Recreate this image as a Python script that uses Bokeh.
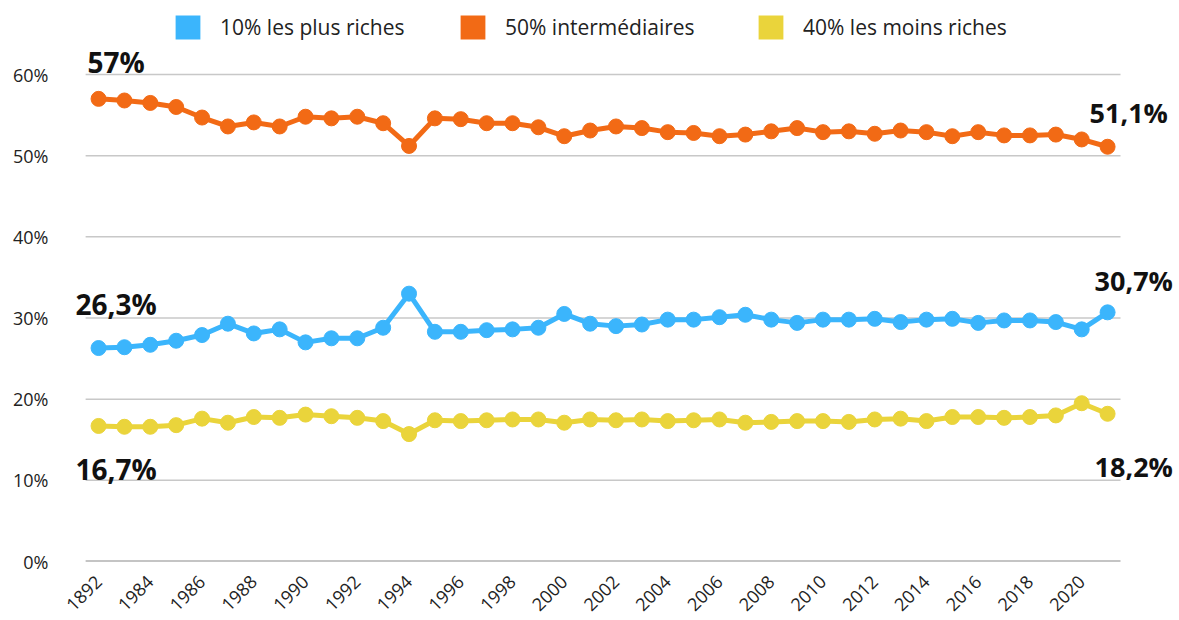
from math import pi
from bokeh.plotting import figure
from bokeh.models import Range1d, FixedTicker, Legend, LegendItem, Label, ColumnDataSource
from bokeh.embed import file_html
from bokeh.resources import INLINE

# ---- data ----
years = list(range(1982, 2022))
top10 = [26.3, 26.4, 26.7, 27.2, 27.9, 29.3, 28.1, 28.6, 27.0, 27.5,
         27.5, 28.8, 33.0, 28.3, 28.3, 28.5, 28.6, 28.8, 30.5, 29.3,
         29.0, 29.2, 29.8, 29.8, 30.1, 30.4, 29.8, 29.4, 29.8, 29.8,
         29.9, 29.5, 29.8, 29.9, 29.4, 29.7, 29.7, 29.5, 28.6, 30.7]
mid50 = [57.0, 56.8, 56.5, 56.0, 54.7, 53.6, 54.1, 53.6, 54.8, 54.6,
         54.8, 54.0, 51.2, 54.6, 54.5, 54.0, 54.0, 53.5, 52.4, 53.1,
         53.6, 53.4, 52.9, 52.8, 52.4, 52.6, 53.0, 53.4, 52.9, 53.0,
         52.7, 53.1, 52.9, 52.4, 52.9, 52.5, 52.5, 52.6, 52.0, 51.1]
bottom40 = [16.7, 16.6, 16.6, 16.8, 17.6, 17.1, 17.8, 17.7, 18.1, 17.9,
            17.7, 17.3, 15.7, 17.4, 17.3, 17.4, 17.5, 17.5, 17.1, 17.5,
            17.4, 17.5, 17.3, 17.4, 17.5, 17.1, 17.2, 17.3, 17.3, 17.2,
            17.5, 17.6, 17.3, 17.8, 17.8, 17.7, 17.8, 18.0, 19.5, 18.2]
series_names = ["10% les plus riches", "50% intermédiaires", "40% les moins riches"]
series_colors = ["#3bb5fc", "#f26a15", "#ead43b"]
tick_years = list(range(1982, 2021, 2))
tick_labels = ["1892"] + [str(y) for y in range(1984, 2021, 2)]
y_ticks = [0, 10, 20, 30, 40, 50, 60]
y_tick_labels = [f"{t}%" for t in y_ticks]


def fmt(v):
    s = f"{v:.1f}"
    if s.endswith(".0"):
        s = s[:-2]
    return s.replace(".", ",") + "%"


# frame covers the whole drawing area so that labels/legend are not clipped
x_lo = years[0] - 0.5
x_hi = years[-1] + 0.5
p = figure(width=1179, height=620, output_backend="svg", toolbar_location=None,
           x_range=Range1d(1981.07, 2023.78), y_range=Range1d(0, 69.12),
           min_border_left=74, min_border_right=0, min_border_top=0, min_border_bottom=59)
p.outline_line_color = None
p.background_fill_color = "white"
p.border_fill_color = "white"
p.xgrid.grid_line_color = None
p.ygrid.grid_line_color = None

# horizontal grid lines spanning only the data columns
grid_src = ColumnDataSource(dict(x0=[x_lo] * len(y_ticks), x1=[x_hi] * len(y_ticks),
                                 y=y_ticks,
                                 color=["#8a8a8a"] + ["#c8c8c8"] * (len(y_ticks) - 1),
                                 width=[2] + [1.5] * (len(y_ticks) - 1)))
p.segment(x0="x0", y0="y", x1="x1", y1="y", source=grid_src, line_color="color",
          line_width="width")

src = ColumnDataSource(dict(year=years, top10=top10, mid50=mid50, bottom40=bottom40))
cols = ["top10", "mid50", "bottom40"]
for col, c in zip(cols, series_colors):
    p.line("year", col, source=src, line_color=c, line_width=5)
    p.scatter("year", col, source=src, size=15, fill_color=c, line_color=c)

p.yaxis.ticker = FixedTicker(ticks=y_ticks)
p.yaxis.major_label_overrides = dict(zip(y_ticks, y_tick_labels))
p.yaxis.axis_line_color = None
p.yaxis.major_tick_line_color = None
p.yaxis.minor_tick_line_color = None
p.yaxis.major_tick_out = 0
p.yaxis.major_tick_in = 0
p.yaxis.major_label_standoff = 26
p.yaxis.major_label_text_font = "Open Sans"
p.yaxis.major_label_text_font_size = "18px"
p.yaxis.major_label_text_color = "#222222"

p.xaxis.ticker = FixedTicker(ticks=tick_years)
p.xaxis.major_label_overrides = dict(zip(tick_years, tick_labels))
p.xaxis.major_label_orientation = pi / 4
p.xaxis.axis_line_color = None
p.xaxis.major_tick_line_color = None
p.xaxis.minor_tick_line_color = None
p.xaxis.major_tick_out = 0
p.xaxis.major_tick_in = 0
p.xaxis.major_label_standoff = 17
p.xaxis.major_label_text_font = "Open Sans"
p.xaxis.major_label_text_font_size = "18px"
p.xaxis.major_label_text_color = "#222222"

# legend proxies: zero-area quads built from the data, one legend per item
legend_x = [98, 383, 681]
for name, c, lx in zip(series_names, series_colors, legend_x):
    proxy = ColumnDataSource(dict(l=[years[0]], r=[years[0]], t=[y_ticks[0]], b=[y_ticks[0]]))
    r = p.quad(left="l", right="r", top="t", bottom="b", source=proxy,
               fill_color=c, line_color=None)
    lg = Legend(items=[LegendItem(label=name, renderers=[r])], location=(lx, 519),
                orientation="horizontal", glyph_width=31, glyph_height=30,
                label_standoff=17, padding=0, margin=0, border_line_color=None,
                background_fill_alpha=0, label_text_font="Open Sans",
                label_text_font_size="21px", label_text_color="#222222",
                label_text_baseline="middle")
    p.add_layout(lg, "center")

# end labels
first_vals = [top10[0], mid50[0], bottom40[0]]
last_vals = [top10[-1], mid50[-1], bottom40[-1]]
first_off = [(-23, 44), (-11, 37), (-23, -43)]
last_off = [(-13, 32), (-18, 34), (-13, -53)]
for v, (dx, dy) in zip(first_vals, first_off):
    p.add_layout(Label(x=years[0], y=v, x_offset=dx, y_offset=dy, text=fmt(v),
                       text_font="Open Sans", text_font_style="bold", text_font_size="28px",
                       text_color="#111111", text_baseline="alphabetic"))
for v, (dx, dy) in zip(last_vals, last_off):
    p.add_layout(Label(x=years[-1], y=v, x_offset=dx, y_offset=dy, text=fmt(v),
                       text_font="Open Sans", text_font_style="bold", text_font_size="27px",
                       text_color="#111111", text_baseline="alphabetic"))

open("out.html", "w").write(file_html(p, INLINE))
